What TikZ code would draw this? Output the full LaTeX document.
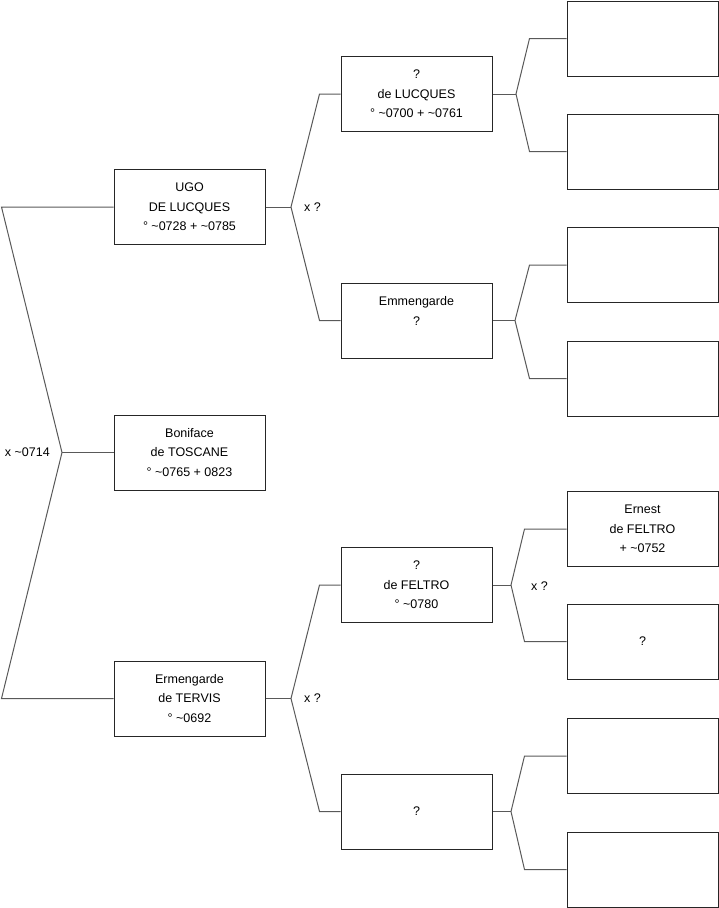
\documentclass[tikz,border=0pt]{standalone}
\usepackage{fontspec}
\setmainfont{Liberation Sans}

\begin{document}
\begin{tikzpicture}[x=1pt,y=-1pt,
  pers/.style={draw=black!85,fill=white,line width=1pt,minimum width=151pt,minimum height=75pt,inner sep=0pt,align=center,font=\fontsize{12.5}{19.5}\selectfont},
  lnk/.style={draw=black!65,line width=1pt},
  lbl/.style={font=\fontsize{12.5}{15}\selectfont,inner sep=0pt}]
  \useasboundingbox (0,0) rectangle (719,908);
  % generations, left to right
  \node[pers] (bon) at (189.5,452.5) {Boniface\\de TOSCANE\\° \textasciitilde0765 + 0823};
  \node[pers] (ugo) at (189.5,207) {UGO\\DE LUCQUES\\° \textasciitilde0728 + \textasciitilde0785};
  \node[pers] (erm) at (189.5,698.5) {Ermengarde\\de TERVIS\\° \textasciitilde0692};
  \node[pers] (luc) at (416.5,94) {?\\de LUCQUES\\° \textasciitilde0700 + \textasciitilde0761};
  \node[pers] (emm) at (416.5,320.5) {Emmengarde\\?\\\mbox{}};
  \node[pers] (fel) at (416.5,585) {?\\de FELTRO\\° \textasciitilde0780};
  \node[pers] (unk) at (416.5,811.5) {?};
  \node[pers] (a1) at (642.5,38.5) {};
  \node[pers] (a2) at (642.5,151.5) {};
  \node[pers] (a3) at (642.5,265) {};
  \node[pers] (a4) at (642.5,378.5) {};
  \node[pers] (ern) at (642.5,529) {Ernest\\de FELTRO\\+ \textasciitilde0752};
  \node[pers] (a6) at (642.5,641.5) {?};
  \node[pers] (a7) at (642.5,756) {};
  \node[pers] (a8) at (642.5,869.5) {};
  % forks
  \coordinate (k0) at (62,452.5);
  \coordinate (k1) at (291,207);
  \coordinate (k2) at (291,698.5);
  \coordinate (k3) at (516,94);
  \coordinate (k4) at (515,320.5);
  \coordinate (k5) at (511,585);
  \coordinate (k6) at (511,811.5);
  \draw[lnk] (bon.west) -- (k0);
  \draw[lnk] (ugo.west) -- ++(-112,0) -- (k0) -- ([xshift=-112pt]erm.west) -- (erm.west);
  \node[lbl,anchor=east] (m0) at ([xshift=-12pt]k0) {x \textasciitilde0714};
  \draw[lnk] (ugo.east) -- (k1);
  \draw[lnk] (luc.west) -- ++(-21,0) -- (k1) -- ([xshift=-21pt]emm.west) -- (emm.west);
  \node[lbl,anchor=west] (m1) at ([xshift=13pt]k1) {x ?};
  \draw[lnk] (erm.east) -- (k2);
  \draw[lnk] (fel.west) -- ++(-21,0) -- (k2) -- ([xshift=-21pt]unk.west) -- (unk.west);
  \node[lbl,anchor=west] (m2) at ([xshift=13pt]k2) {x ?};
  \draw[lnk] (luc.east) -- (k3);
  \draw[lnk] (a1.west) -- ++(-37,0) -- (k3) -- ([xshift=-37pt]a2.west) -- (a2.west);
  \draw[lnk] (emm.east) -- (k4);
  \draw[lnk] (a3.west) -- ++(-37,0) -- (k4) -- ([xshift=-37pt]a4.west) -- (a4.west);
  \draw[lnk] (fel.east) -- (k5);
  \draw[lnk] (ern.west) -- ++(-42,0) -- (k5) -- ([xshift=-42pt]a6.west) -- (a6.west);
  \node[lbl,anchor=west] (m3) at ([xshift=20pt,yshift=-1pt]k5) {x ?};
  \draw[lnk] (unk.east) -- (k6);
  \draw[lnk] (a7.west) -- ++(-42,0) -- (k6) -- ([xshift=-42pt]a8.west) -- (a8.west);
\end{tikzpicture}
\end{document}
